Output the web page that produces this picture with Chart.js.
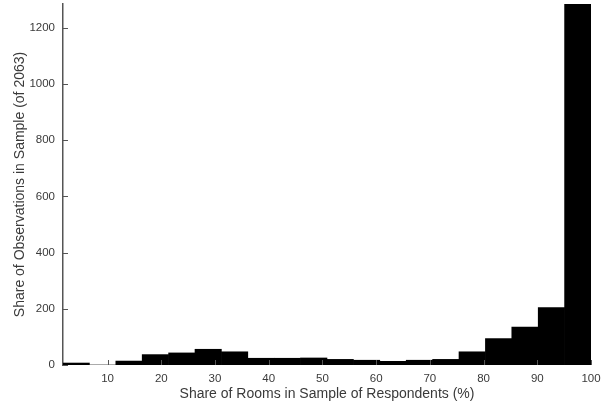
<!DOCTYPE html>
<html>
<head>
<meta charset="utf-8">
<script src="https://cdn.jsdelivr.net/npm/chart.js@4/dist/chart.umd.min.js"></script>
<style>
  html, body { margin: 0; padding: 0; background: #fff; }
  #wrap { width: 604px; height: 409px; position: relative; }
</style>
</head>
<body>
<div id="wrap"><canvas id="hist"></canvas></div>
<script>
// Histogram bins: 20 equal bins spanning 1.7 .. 100 (% of rooms)
const binCenters = [4.16, 9.07, 13.99, 18.90, 23.82, 28.73, 33.65, 38.56, 43.48, 48.39,
                    53.31, 58.22, 63.14, 68.05, 72.97, 77.88, 82.80, 87.71, 92.63, 97.54];
// Number of observations in each bin
const binCounts  = [7, 0, 14, 37, 43, 56, 47, 24, 24, 25,
                    20, 17, 13, 17, 20, 47, 94, 135, 204, 1285];
const xTicks = [10, 20, 30, 40, 50, 60, 70, 80, 90, 100];
const yTicks = [0, 200, 400, 600, 800, 1000, 1200];

const textColor = '#3a3a3a';
const axisColor = '#555';
const fontFamily = 'Liberation Sans, Arial, Helvetica, sans-serif';

// Inward tick marks on both axes
const inwardTicks = {
  id: 'inwardTicks',
  afterDatasetsDraw(chart) {
    const { ctx, chartArea, scales } = chart;
    ctx.save();
    ctx.strokeStyle = axisColor;
    ctx.lineWidth = 1;
    ctx.beginPath();
    xTicks.forEach(v => {
      const px = Math.round(scales.x.getPixelForValue(v)) + 0.5;
      ctx.moveTo(px, chartArea.bottom);
      ctx.lineTo(px, chartArea.bottom - 5);
    });
    yTicks.forEach(v => {
      const py = Math.round(scales.y.getPixelForValue(v)) + 0.5;
      ctx.moveTo(chartArea.left, py);
      ctx.lineTo(chartArea.left + 5, py);
    });
    ctx.stroke();
    ctx.restore();
  }
};

new Chart(document.getElementById('hist'), {
  type: 'bar',
  data: {
    datasets: [{
      data: binCenters.map((x, i) => ({ x: x, y: binCounts[i] })),
      backgroundColor: '#000',
      borderWidth: 0,
      barPercentage: 1.0,
      categoryPercentage: 1.0
    }]
  },
  plugins: [inwardTicks],
  options: {
    responsive: true,
    maintainAspectRatio: false,
    animation: false,
    layout: { padding: { top: 4, right: 13, left: 0, bottom: 0 } },
    plugins: { legend: { display: false }, tooltip: { enabled: false } },
    scales: {
      x: {
        type: 'linear',
        min: 1.7,
        max: 100,
        offset: false,
        grid: { display: false, drawTicks: false },
        border: { display: false },
        afterBuildTicks: s => { s.ticks = xTicks.map(v => ({ value: v })); },
        afterFit: s => { s.height = 44; s.paddingLeft = 0; s.paddingRight = 0; },
        ticks: {
          color: textColor,
          padding: 7,
          maxRotation: 0,
          callback: v => String(v),
          font: { family: fontFamily, size: 11.5 }
        },
        title: {
          display: true,
          text: 'Share of Rooms in Sample of Respondents (%)',
          color: textColor,
          padding: { top: 0, bottom: 6 },
          font: { family: fontFamily, size: 14 }
        }
      },
      y: {
        min: 0,
        max: 1285,
        grid: { display: false, drawTicks: false },
        border: { display: true, color: axisColor, width: 1.5 },
        afterBuildTicks: s => { s.ticks = yTicks.map(v => ({ value: v })); },
        afterFit: s => { s.width = 63; s.paddingTop = 0; s.paddingBottom = 0; },
        ticks: {
          color: textColor,
          padding: 8,
          callback: v => String(v),
          font: { family: fontFamily, size: 11.5 }
        },
        title: {
          display: true,
          text: 'Share of Observations in Sample (of 2063)',
          color: textColor,
          padding: { top: 12, bottom: 0 },
          font: { family: fontFamily, size: 14 }
        }
      }
    }
  }
});
</script>
</body>
</html>
